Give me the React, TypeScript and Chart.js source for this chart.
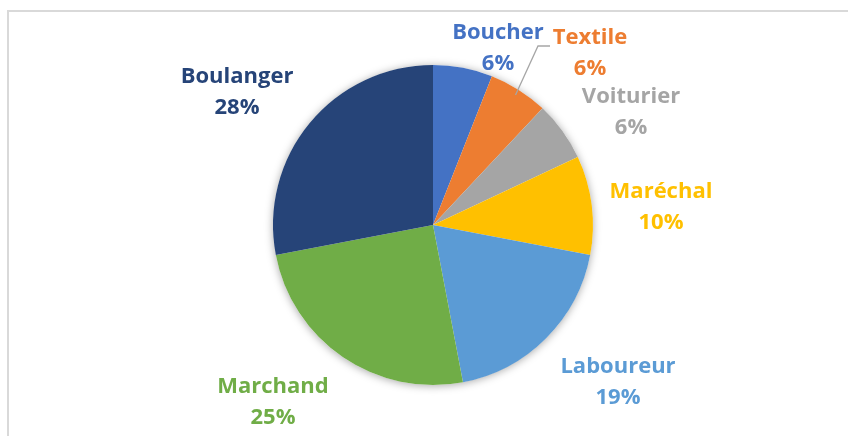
import React, { useEffect, useRef } from "react";
import { Chart, registerables } from "chart.js";

Chart.register(...registerables);

const categories = ["Boucher", "Textile", "Voiturier", "Maréchal", "Laboureur", "Marchand", "Boulanger"];
const values = [6, 6, 6, 10, 19, 25, 28];
const colors = ["#4472C4", "#ED7D31", "#A5A5A5", "#FFC000", "#5B9BD5", "#70AD47", "#264478"];

// label anchor (first line centre) relative to pie centre
const labelOffsets: [number, number][] = [
  [65, -192],
  [157, -187],
  [198, -128],
  [228, -33],
  [185, 142],
  [-160, 162],
  [-196, -148],
];

const FONT = "bold 22px 'Open Sans', 'Noto Sans', sans-serif";

const decorPlugin = {
  id: "decor",
  beforeDraw(chart: any) {
    const ctx = chart.ctx;
    ctx.save();
    ctx.fillStyle = "#ffffff";
    ctx.fillRect(0, 0, chart.width, chart.height);
    ctx.fillStyle = "#d9d9d9";
    ctx.fillRect(7, 10, 2, chart.height - 10);
    ctx.fillRect(7, 10, chart.width - 7, 2);
    ctx.restore();
  },
  beforeDatasetsDraw(chart: any) {
    const meta = chart.getDatasetMeta(0);
    const arc = meta.data[0];
    if (!arc) return;
    const { x, y, outerRadius } = arc.getProps(["x", "y", "outerRadius"], true);
    const ctx = chart.ctx;
    ctx.save();
    ctx.shadowColor = "rgba(0,0,0,0.35)";
    ctx.shadowBlur = 9;
    ctx.shadowOffsetX = 0;
    ctx.shadowOffsetY = 1;
    ctx.fillStyle = "#ffffff";
    ctx.beginPath();
    ctx.arc(x, y, outerRadius, 0, Math.PI * 2);
    ctx.fill();
    ctx.restore();
  },
  afterDatasetsDraw(chart: any) {
    const meta = chart.getDatasetMeta(0);
    const arc0 = meta.data[0];
    if (!arc0) return;
    const { x: cx, y: cy, outerRadius } = arc0.getProps(["x", "y", "outerRadius"], true);
    const ctx = chart.ctx;
    const total = values.reduce((a, b) => a + b, 0);
    ctx.save();
    // leader line for Textile
    const tArc = meta.data[1];
    const { startAngle, endAngle } = tArc.getProps(["startAngle", "endAngle"], true);
    const mid = (startAngle + endAngle) / 2;
    const px = cx + Math.cos(mid) * (outerRadius - 6);
    const py = cy + Math.sin(mid) * (outerRadius - 6);
    const [tdx, tdy] = labelOffsets[1];
    ctx.strokeStyle = "#a6a6a6";
    ctx.lineWidth = 1.3;
    ctx.beginPath();
    ctx.moveTo(px, py);
    ctx.lineTo(cx + tdx - 52, cy + tdy + 8);
    ctx.lineTo(cx + tdx - 40, cy + tdy + 8);
    ctx.stroke();

    ctx.font = FONT;
    ctx.textAlign = "center";
    ctx.textBaseline = "middle";
    categories.forEach((name, i) => {
      const [dx, dy] = labelOffsets[i];
      ctx.fillStyle = colors[i];
      ctx.fillText(name, cx + dx, cy + dy);
      ctx.fillText(Math.round((values[i] / total) * 100) + "%", cx + dx, cy + dy + 31);
    });
    ctx.restore();
  },
};

export default function App() {
  const ref = useRef<HTMLCanvasElement | null>(null);
  useEffect(() => {
    if (!ref.current) return;
    const chart = new Chart(ref.current, {
      type: "pie",
      data: {
        labels: categories,
        datasets: [
          {
            data: values,
            backgroundColor: colors,
            borderWidth: 0,
          },
        ],
      },
      options: {
        responsive: false,
        animation: false,
        layout: { padding: { left: 273, right: 255, top: 65, bottom: 51 } },
        plugins: {
          legend: { display: false },
          tooltip: { enabled: false },
        },
      },
      plugins: [decorPlugin],
    });
    return () => chart.destroy();
  }, []);
  return (
    <div style={{ position: "fixed", left: 0, top: 0, width: 848, height: 436, background: "#fff" }}>
      <canvas ref={ref} width={848} height={436} style={{ width: 848, height: 436, display: "block" }} />
    </div>
  );
}
